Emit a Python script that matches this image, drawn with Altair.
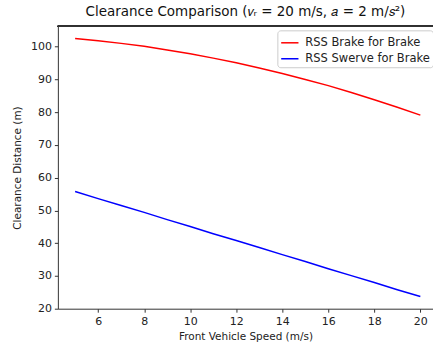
import altair as alt
import pandas as pd

speed = [5, 6, 7, 8, 9, 10, 11, 12, 13, 14, 15, 16, 17, 18, 19, 20]
brake = [102.5, 101.8, 101.0, 100.1, 99.0, 97.8, 96.5, 95.1, 93.5, 91.8, 90.0, 88.1, 86.0, 83.8, 81.5, 79.1]
swerve = [55.8, 53.6, 51.5, 49.4, 47.2, 45.1, 42.9, 40.8, 38.7, 36.5, 34.4, 32.2, 30.1, 28.0, 25.8, 23.7]
series = ["RSS Brake for Brake", "RSS Swerve for Brake"]
colors = ["#ff0000", "#0000ff"]

rows = []
for i, v in enumerate(speed):
    rows.append({"speed": v, "dist": brake[i], "series": series[0]})
    rows.append({"speed": v, "dist": swerve[i], "series": series[1]})
df = pd.DataFrame(rows)

W, H = 376, 283
FONT = "DejaVu Sans"

lines = alt.Chart(df).mark_line(strokeWidth=1.5).encode(
    x=alt.X("speed:Q", scale=alt.Scale(domain=[4.25, 20.55], nice=False, zero=False),
            axis=alt.Axis(values=[6, 8, 10, 12, 14, 16, 18, 20], title="Front Vehicle Speed (m/s)",
                          grid=False)),
    y=alt.Y("dist:Q", scale=alt.Scale(domain=[20, 106.2], nice=False, zero=False),
            axis=alt.Axis(values=[20, 30, 40, 50, 60, 70, 80, 90, 100], title="Clearance Distance (m)",
                          grid=False)),
    color=alt.Color("series:N", scale=alt.Scale(domain=series, range=colors),
                    legend=alt.Legend(title=None, orient="none", legendX=220, legendY=4,
                                      symbolType="stroke", symbolStrokeWidth=1.5, symbolSize=300,
                                      labelFontSize=11.5, labelFont=FONT, labelColor="#222",
                                      labelLimit=300,
                                      fillColor="white", strokeColor="#cccccc", cornerRadius=3,
                                      padding=3, rowPadding=1, symbolOffset=0, labelOffset=6)),
)

top = alt.Chart(df).mark_rule(color="#333", strokeWidth=1).encode(
    x=alt.value(0), x2=alt.value(W), y=alt.value(0))

chart = alt.layer(lines, top).properties(
    width=W, height=H,
    title=alt.Title("Clearance Comparison (𝑣ᵣ = 20 m/s, 𝑎 = 2 m/𝑠²)", fontSize=13.5, font=FONT,
                    fontWeight="normal", color="#111", anchor="middle", offset=7),
    padding={"left": 58, "top": 26, "right": 0, "bottom": 39},
    autosize=alt.AutoSizeParams(type="none"),
).configure_view(stroke=None).configure_axis(
    labelFont=FONT, titleFont=FONT, labelFontSize=11, titleFontSize=10.5,
    titleFontWeight="normal", labelColor="#222", titleColor="#222",
    domainColor="#333", tickColor="#333", tickSize=3.5, labelPadding=3,
).configure_axisY(titlePadding=8).configure_axisX(titlePadding=5)

chart.save("out.html", embed_options={"renderer": "svg", "actions": False})
